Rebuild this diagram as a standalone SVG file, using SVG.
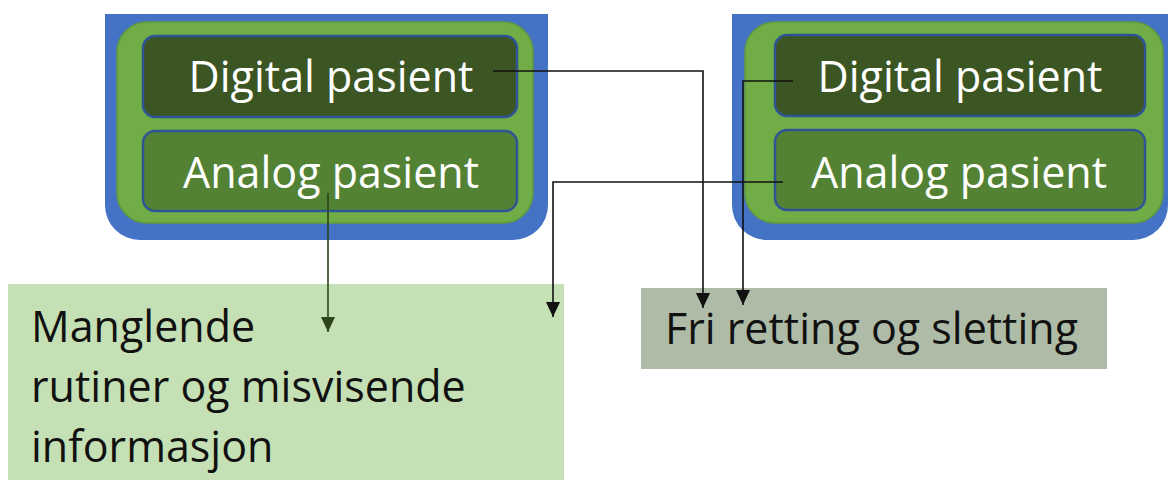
<svg xmlns="http://www.w3.org/2000/svg" width="1169" height="480" viewBox="0 0 1169 480">
  <style>
    .outer { fill: #4472c4; }
    .group { fill: #70ad47; stroke: #5f9a3c; stroke-width: 1.5; }
    .digital { fill: #3b5523; stroke: #2f5597; stroke-width: 2.5; }
    .analog { fill: #548235; stroke: #2f5597; stroke-width: 2.5; }
    .label { font-family: "Open Sans", "Noto Sans", sans-serif; font-size: 43px; }
    .white { fill: #ffffff; text-anchor: middle; }
    .dark { fill: #111111; }
    .wire { fill: none; stroke: #111111; stroke-width: 1.6; }
    .wire-green { fill: none; stroke: #2c4419; stroke-width: 1.6; }
  </style>
  <defs>
    <marker id="arrow" viewBox="0 0 15 14" refX="15" refY="7" markerWidth="15" markerHeight="14" markerUnits="userSpaceOnUse" orient="auto">
      <path d="M0,0 L15,7 L0,14 Z" fill="#111111"/>
    </marker>
    <marker id="arrow-green" viewBox="0 0 15 14" refX="15" refY="7" markerWidth="15" markerHeight="14" markerUnits="userSpaceOnUse" orient="auto">
      <path d="M0,0 L15,7 L0,14 Z" fill="#2c4419"/>
    </marker>
  </defs>

  <!-- left patient group -->
  <g id="group-left">
    <path class="outer" d="M105,14 H548 V205 A35,35 0 0 1 513,240 H140 A35,35 0 0 1 105,205 Z"/>
    <rect class="group" x="117" y="22" width="416" height="201" rx="30"/>
  </g>
  <g id="digital-left">
    <rect class="digital" x="143" y="36" width="374" height="81" rx="12"/>
    <text class="label white" x="331" y="92">Digital pasient</text>
  </g>
  <g id="analog-left">
    <rect class="analog" x="143" y="131" width="374" height="80" rx="12"/>
    <text class="label white" x="331" y="188">Analog pasient</text>
  </g>

  <!-- right patient group -->
  <g id="group-right">
    <path class="outer" d="M732,14 H1168 V205 A35,35 0 0 1 1133,240 H767 A35,35 0 0 1 732,205 Z"/>
    <rect class="group" x="745" y="22" width="418" height="201" rx="30"/>
  </g>
  <g id="digital-right">
    <rect class="digital" x="775" y="35" width="370" height="81" rx="12"/>
    <text class="label white" x="960" y="92">Digital pasient</text>
  </g>
  <g id="analog-right">
    <rect class="analog" x="775" y="130" width="370" height="80" rx="12"/>
    <text class="label white" x="959" y="188">Analog pasient</text>
  </g>

  <!-- outcome boxes -->
  <g id="manglende">
    <rect x="8" y="284" width="556" height="196" fill="#c5e0b4"/>
    <text class="label dark" x="31" y="342">Manglende</text>
    <text class="label dark" x="31" y="402">rutiner og misvisende</text>
    <text class="label dark" x="31" y="462">informasjon</text>
  </g>
  <g id="fri-retting">
    <rect x="641" y="288" width="466" height="81" fill="#aebba6"/>
    <text class="label dark" x="665" y="344">Fri retting og sletting</text>
  </g>

  <!-- connectors -->
  <g id="connectors">
    <path class="wire-green" d="M328,193 V332" marker-end="url(#arrow-green)"/>
    <path class="wire" d="M493,71 H703 V308" marker-end="url(#arrow)"/>
    <path class="wire" d="M793,81 H743 V305" marker-end="url(#arrow)"/>
    <path class="wire" d="M783,182 H553 V317" marker-end="url(#arrow)"/>
  </g>
</svg>
